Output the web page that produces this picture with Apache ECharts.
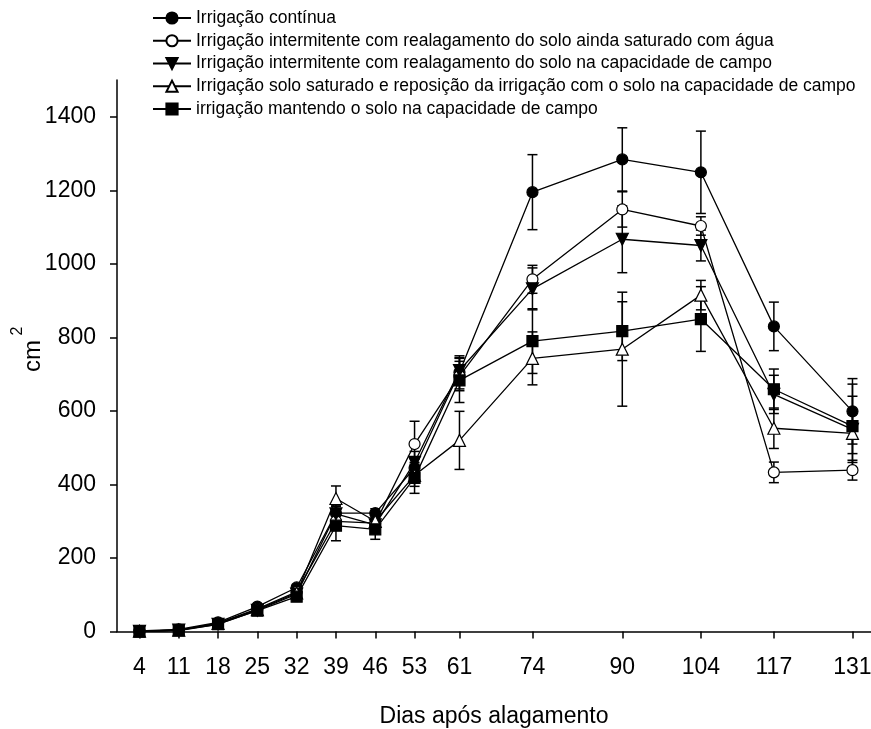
<!DOCTYPE html>
<html>
<head>
<meta charset="utf-8">
<script src="https://cdn.jsdelivr.net/npm/echarts@6/dist/echarts.min.js"></script>
<style>
  html, body { margin: 0; padding: 0; background: #fff; }
  #chart { width: 871px; height: 729px; }
</style>
</head>
<body>
<div id="chart"></div>
<script>
// Days after flooding (sampling dates)
const days = [4, 11, 18, 25, 32, 39, 46, 53, 61, 74, 90, 104, 117, 131];
const yTicks = [0, 200, 400, 600, 800, 1000, 1200, 1400];

const seriesNames = [
  'Irrigação contínua',
  'Irrigação intermitente com realagamento do solo ainda saturado com água',
  'Irrigação intermitente com realagamento do solo na capacidade de campo',
  'Irrigação solo saturado e reposição da irrigação com o solo na capacidade de campo',
  'irrigação mantendo o solo na capacidade de campo'
];

// Mean area (cm²) per treatment
const continua      = [2, 6, 25, 68, 120, 322, 322, 445, 705, 1195, 1284, 1249, 830, 599];
const intermSat     = [1, 4, 23, 62, 108, 300, 295, 510, 695, 958, 1148, 1103, 433, 439];
const intermCampo   = [1, 4, 20, 58, 102, 320, 290, 460, 710, 932, 1067, 1050, 645, 550];
const saturadoRepos = [1, 4, 22, 60, 105, 362, 300, 425, 520, 743, 768, 915, 553, 539];
const mantendoCampo = [0, 3, 20, 57, 95, 288, 278, 418, 683, 790, 817, 850, 659, 559];

// Error (±) per treatment
const continuaErr      = [1, 2, 4, 6, 8, 20, 12, 25, 45, 102, 86, 112, 66, 89];
const intermSatErr     = [1, 2, 4, 6, 8, 18, 12, 62, 40, 38, 48, 25, 28, 27];
const intermCampoErr   = [1, 2, 4, 6, 8, 20, 15, 30, 35, 57, 91, 42, 52, 90];
const saturadoReposErr = [1, 2, 4, 6, 8, 34, 15, 30, 79, 72, 155, 40, 55, 55];
const mantendoCampoErr = [1, 2, 4, 6, 8, 41, 27, 42, 60, 88, 80, 88, 55, 114];

const FONT = "'Liberation Sans', Arial, Helvetica, sans-serif";

const groups = [
  { values: continua,      errs: continuaErr,      symbol: 'circle',   rotate: 0,   fill: '#000', size: 11 },
  { values: intermSat,     errs: intermSatErr,     symbol: 'circle',   rotate: 0,   fill: '#fff', size: 11 },
  { values: intermCampo,   errs: intermCampoErr,   symbol: 'triangle', rotate: 180, fill: '#000', size: 12 },
  { values: saturadoRepos, errs: saturadoReposErr, symbol: 'triangle', rotate: 0,   fill: '#fff', size: 12 },
  { values: mantendoCampo, errs: mantendoCampoErr, symbol: 'rect',     rotate: 0,   fill: '#000', size: 11 }
];

function renderErrorBar(params, api) {
  const x = api.value(0);
  const top = api.coord([x, api.value(2)]);
  const bot = api.coord([x, api.value(1)]);
  const hw = 5;
  const style = { stroke: '#000', lineWidth: 1.5 };
  return {
    type: 'group',
    children: [
      { type: 'line', shape: { x1: top[0], y1: top[1], x2: bot[0], y2: bot[1] }, style },
      { type: 'line', shape: { x1: top[0] - hw, y1: top[1], x2: top[0] + hw, y2: top[1] }, style },
      { type: 'line', shape: { x1: bot[0] - hw, y1: bot[1], x2: bot[0] + hw, y2: bot[1] }, style }
    ]
  };
}

const series = [];
groups.forEach((g, i) => {
  series.push({
    type: 'custom',
    name: seriesNames[i] + ' (erro)',
    renderItem: renderErrorBar,
    data: days.map((d, k) => [d, g.values[k] - g.errs[k], g.values[k] + g.errs[k]]),
    z: 2,
    silent: true
  });
});
groups.forEach((g, i) => {
  series.push({
    type: 'line',
    name: seriesNames[i],
    data: days.map((d, k) => [d, g.values[k]]),
    symbol: g.symbol,
    symbolRotate: g.rotate,
    symbolSize: g.size,
    lineStyle: { color: '#000', width: 1.3 },
    itemStyle: { color: g.fill, borderColor: '#000', borderWidth: 1.2 },
    z: 3,
    animation: false
  });
});

const chart = echarts.init(document.getElementById('chart'));
chart.setOption({
  animation: false,
  backgroundColor: '#fff',
  grid: { left: 117, top: 80, right: 0, bottom: 97.4, containLabel: false, outerBoundsMode: 'none' },
  legend: {
    data: seriesNames,
    orient: 'vertical',
    left: 147,
    top: 4,
    itemWidth: 38,
    itemHeight: 14,
    itemGap: 4.75,
    textStyle: { color: '#000', fontSize: 17.5, lineHeight: 16, fontFamily: FONT },
    selectedMode: false
  },
  // y-axis title: "cm" with a raised "2", reading bottom to top
  graphic: [
    {
      type: 'text', x: 33, y: 356, rotation: Math.PI / 2,
      style: { text: 'cm', fontSize: 24, fontFamily: FONT, fill: '#000', align: 'center', verticalAlign: 'middle' }
    },
    {
      type: 'text', x: 18, y: 331, rotation: Math.PI / 2,
      style: { text: '2', fontSize: 16, fontFamily: FONT, fill: '#000', align: 'center', verticalAlign: 'middle' }
    }
  ],
  xAxis: {
    type: 'value',
    min: 0,
    max: 134.3,
    name: 'Dias após alagamento',
    nameLocation: 'middle',
    nameGap: 74,
    nameTextStyle: { color: '#000', fontSize: 23, fontFamily: FONT },
    axisLine: { lineStyle: { color: '#000', width: 1.5 } },
    axisTick: { show: true, inside: false, length: 7, customValues: days, lineStyle: { color: '#000', width: 1.5 } },
    axisLabel: { customValues: days, color: '#000', fontSize: 23, fontFamily: FONT, margin: 25 },
    splitLine: { show: false }
  },
  yAxis: {
    type: 'value',
    min: 0,
    max: 1500,
    axisLine: { show: true, lineStyle: { color: '#000', width: 1.5 } },
    axisTick: { show: true, inside: false, length: 7, customValues: yTicks, lineStyle: { color: '#000', width: 1.5 } },
    axisLabel: {
      customValues: yTicks,
      formatter: (v) => String(v),
      color: '#000', fontSize: 23, fontFamily: FONT, margin: 21
    },
    splitLine: { show: false }
  },
  series
});
</script>
</body>
</html>
